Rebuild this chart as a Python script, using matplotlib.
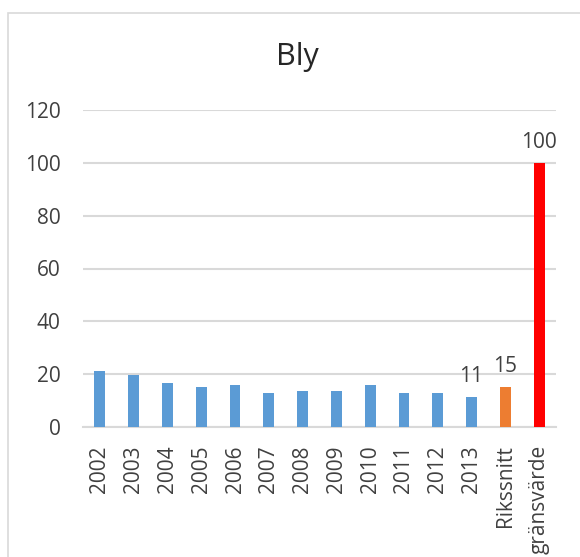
import matplotlib
matplotlib.use("Agg")
import matplotlib.pyplot as plt
from matplotlib.patches import Rectangle

categories = ["2002", "2003", "2004", "2005", "2006", "2007", "2008", "2009",
              "2010", "2011", "2012", "2013", "Rikssnitt", "gränsvärde"]
values = [21.2, 19.7, 16.6, 15.1, 15.9, 12.8, 13.5, 13.5, 15.9, 12.8, 12.8, 11.2, 15, 100]
colors = ["#5B9BD5"] * 12 + ["#ED7D31", "#FF0000"]
label_texts = {11: "11", 12: "15", 13: "100"}
yticks = [0, 20, 40, 60, 80, 100, 120]

plt.rcParams['font.family'] = ['Open Sans', 'DejaVu Sans']

fig = plt.figure(figsize=(5.8, 5.57), dpi=100)
fig.patches.append(Rectangle((7.5/580, -0.1), 1.2, 1 - 12.5/557 + 0.1,
                             transform=fig.transFigure, fill=False,
                             edgecolor="#d9d9d9", linewidth=1.2))
ax = fig.add_axes([83/580, 1 - 427/557, (556-83)/580, (427-110)/557])

x = list(range(len(categories)))
ax.bar(x, values, width=0.32, color=colors, zorder=3)
for i, t in label_texts.items():
    ax.text(i, values[i] + 3.8, t, ha="center", va="bottom", fontsize=15, color="#404040")

ax.set_xlim(-0.5, len(categories) - 0.5)
ax.set_ylim(0, 120)
ax.set_yticks(yticks)
ax.set_yticklabels([str(v) for v in yticks])
ax.set_xticks(x)
ax.set_xticklabels(categories, rotation=90)
ax.tick_params(axis="y", length=0, pad=16, labelsize=15, labelcolor="#404040")
ax.tick_params(axis="x", length=0, pad=13, labelsize=15, labelcolor="#404040")
ax.grid(axis="y", color="#d9d9d9", linewidth=1.5, zorder=0)
for s in ["top", "right", "left"]:
    ax.spines[s].set_visible(False)
ax.spines["bottom"].set_color("#d9d9d9")
ax.spines["bottom"].set_linewidth(1.5)

fig.text(297/580, 1 - 57/557, "Bly", ha="center", va="center", fontsize=22, color="#262626")

fig.savefig("out.png", dpi=100)
